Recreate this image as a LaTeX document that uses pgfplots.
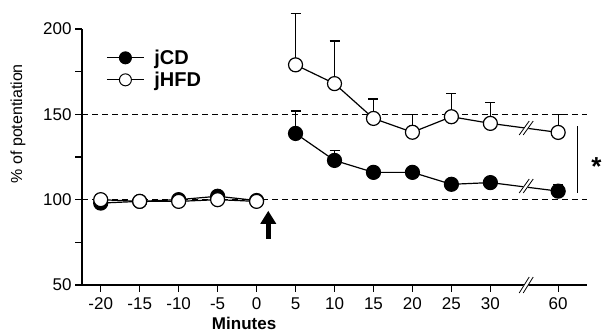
\documentclass[border=0pt]{standalone}
\usepackage{pgfplots}
\pgfplotsset{compat=1.18}
\usepackage{fontspec}
\setmainfont{Liberation Sans}
\usetikzlibrary{arrows.meta}

\pgfplotstableread{
x y e
-20 98 0
-15 99 0
-10 100 0
-5 102 0
0 99.5 0
2.5 nan 0
5 138.8 13.2
10 123 6
15 116 0
20 116 0
25 109 0
30 110 0
38.7 105 4
}\jcd

\pgfplotstableread{
x y e
-20 100 0
-15 99 0
-10 99 0
-5 100 0
0 99 0
2.5 nan 0
5 179 30
10 168 25
15 147.6 11.4
20 139.5 10.5
25 148.6 13.4
30 144.7 12.3
38.7 139.4 10.6
}\jhfd

\begin{document}
\begin{tikzpicture}
\begin{axis}[
 scale only axis, width=505pt, height=256pt,
 xmin=-22.4, xmax=42.4, ymin=50, ymax=200,
 axis lines=left, axis line style={line width=1.5pt, -},
 clip=false, unbounded coords=jump,
 xtick={-20,-15,-10,-5,0,5,10,15,20,25,30,38.7},
 xticklabels={-20,-15,-10,-5,0,5,10,15,20,25,30,60},
 ytick={50,100,150,200}, minor ytick={75,125,175},
 tick align=outside, tick style={line width=1.2pt, black},
 major tick length=7pt, minor tick length=7pt,
 tick label style={font=\fontsize{17}{19}\selectfont},
 xticklabel style={yshift=-2pt},
 /pgf/number format/assume math mode=true,
 legend style={draw=none, fill=none, at={(rel axis cs:0.042,0.935)}, anchor=north west,
   font=\bfseries\fontsize{20}{22}\selectfont, row sep=2pt,
   /tikz/every odd column/.append style={column sep=8pt}},
 legend cell align=left,
 legend image code/.code={\draw[line width=1pt, mark repeat=2,mark phase=2, mark size=6pt] plot coordinates {(0pt,0pt)(18.5pt,0pt)(37pt,0pt)};},
]
\draw[line width=1.3pt, dash pattern=on 6pt off 4pt] (axis cs:-22.4,150) -- (axis cs:42.4,150);
\draw[line width=1.3pt, dash pattern=on 6pt off 4pt] (axis cs:-22.4,100) -- (axis cs:42.4,100);

\addplot[black, line width=1.2pt, mark=*, mark size=7pt, mark options={fill=black, solid},
  error bars/.cd, y dir=plus, y explicit,
  error bar style={line width=1.2pt},
  error mark options={line width=1.2pt, mark size=5pt, rotate=90}]
  table[x=x, y=y, y error=e] {\jcd};
\addlegendentry{jCD}
\addplot[black, line width=1.2pt, mark=*, mark size=7pt, mark options={fill=white, solid},
  error bars/.cd, y dir=plus, y explicit,
  error bar style={line width=1.2pt},
  error mark options={line width=1.2pt, mark size=5pt, rotate=90}]
  table[x=x, y=y, y error=e] {\jhfd};
\addlegendentry{jHFD}

% axis breaks
\draw[shift={(axis cs:34.6,142)}, white, line width=4pt] (-5pt,-7pt) -- (5pt,7pt);
\draw[shift={(axis cs:34.6,142)}, black, line width=0.8pt] (-7pt,-7pt) -- (3pt,7pt) (-3pt,-7pt) -- (7pt,7pt);
\draw[shift={(axis cs:34.6,108)}, white, line width=4pt] (-5pt,-7pt) -- (5pt,7pt);
\draw[shift={(axis cs:34.6,108)}, black, line width=0.8pt] (-7pt,-7pt) -- (3pt,7pt) (-3pt,-7pt) -- (7pt,7pt);
\draw[shift={(axis cs:34.6,50)}, white, line width=4pt] (-5pt,-8pt) -- (5pt,8pt);
\draw[shift={(axis cs:34.6,50)}, black, line width=0.8pt] (-7pt,-8pt) -- (3pt,8pt) (-3pt,-8pt) -- (7pt,8pt);

% arrow
\draw[line width=5pt, -{Triangle[width=15pt,length=13pt]}] (axis cs:1.5,77) -- (axis cs:1.5,93.5);

% significance bar
\draw[line width=1.3pt] (axis cs:41.2,143) -- (axis cs:41.2,104);
\node[font=\bfseries\fontsize{26}{28}\selectfont] at (axis cs:43.6,119.5) {*};

\node[rotate=90, font=\fontsize{16}{18}\selectfont] at (rel axis cs:-0.127,0.63) {\% of potentiation};
\node[font=\bfseries\fontsize{17}{19}\selectfont] at (rel axis cs:0.321,-0.151) {Minutes};

\coordinate (bbl) at (rel axis cs:-0.1624,-0.1914);
\coordinate (btr) at (rel axis cs:1.0317,1.1133);
\end{axis}
\pgfresetboundingbox
\useasboundingbox (bbl) rectangle (btr);
\end{tikzpicture}
\end{document}
